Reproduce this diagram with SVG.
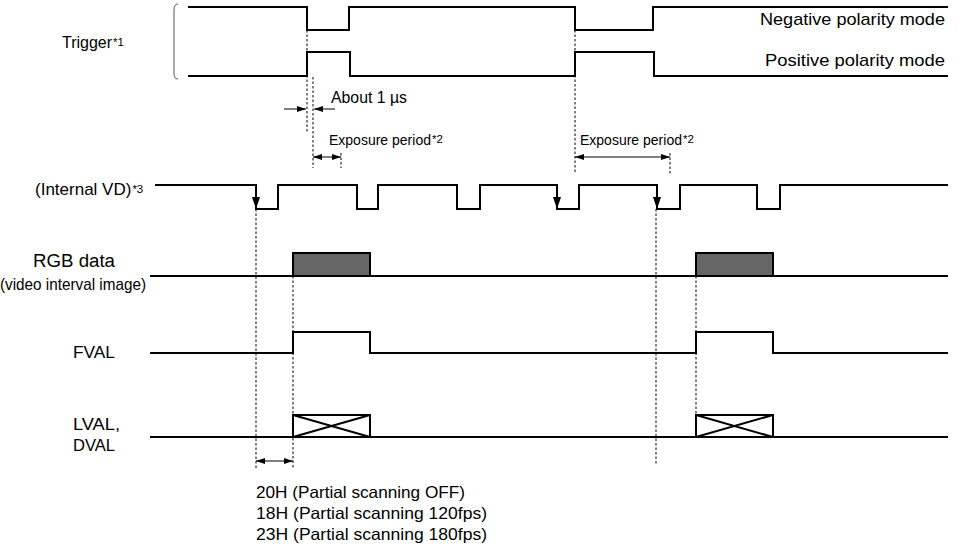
<svg xmlns="http://www.w3.org/2000/svg" width="959" height="547" viewBox="0 0 959 547">
<defs>
<style>
.sig{fill:none;stroke:#000;stroke-width:2;stroke-linejoin:miter}
.dash{fill:none;stroke:#000;stroke-width:1;stroke-dasharray:2.5 2}
.arr{fill:none;stroke:#000;stroke-width:1}
.t{font-family:"Liberation Sans",Arial,Helvetica,sans-serif;fill:#000}
.sup{font-size:11.5px}
.box{fill:#666;stroke:#000;stroke-width:2}
.xbox{fill:#fff;stroke:#000;stroke-width:2}
</style>
<marker id="ah" markerWidth="9" markerHeight="6" refX="9" refY="3" orient="auto-start-reverse" markerUnits="userSpaceOnUse">
<path d="M0,0 L9,3 L0,6 Z" fill="#000"/>
</marker>
<marker id="vah" markerWidth="12" markerHeight="8" refX="12" refY="4" orient="auto" markerUnits="userSpaceOnUse">
<path d="M0,0 L12,4 L0,8 Z" fill="#000"/>
</marker>
</defs>
<rect width="959" height="547" fill="#fff"/>

<g id="trigger">
<text class="t" x="62" y="48" font-size="16">Trigger<tspan class="sup" dx="1" dy="-2">*1</tspan></text>
<path d="M178,4 Q174,4 174,10 L174,73 Q174,79 178,79" fill="none" stroke="#555" stroke-width="1"/>
<path class="sig" d="M188,7 H307 V30 H349 V7 H575 V30 H653 V7 H948"/>
<path class="sig" d="M188,76 H307 V52 H350 V76 H575 V52 H654 V76 H948"/>
<text class="t" x="945" y="25" font-size="17" text-anchor="end" textLength="185" lengthAdjust="spacingAndGlyphs">Negative polarity mode</text>
<text class="t" x="945" y="66" font-size="17" text-anchor="end" textLength="180" lengthAdjust="spacingAndGlyphs">Positive polarity mode</text>
</g>

<g id="internal-vd">
<text class="t" x="35" y="195" font-size="17">(Internal VD)<tspan class="sup" dx="1" dy="-2">*3</tspan></text>
<path class="sig" d="M155,185 H256 V209 H278 V185 H357 V209 H378 V185 H457 V209 H480 V185 H557 V209 H579 V185 H657 V209 H680 V185 H757 V209 H780 V185 H948"/>
</g>

<g id="rgb-data">
<text class="t" x="74" y="267" font-size="18" text-anchor="middle" textLength="82" lengthAdjust="spacingAndGlyphs">RGB data</text>
<text class="t" x="0" y="290" font-size="17" textLength="146" lengthAdjust="spacingAndGlyphs">(video interval image)</text>
<path class="sig" d="M150,276 H948"/>
<rect class="box" x="293" y="253" width="77" height="23"/>
<rect class="box" x="696" y="253" width="77" height="23"/>
</g>

<g id="fval">
<text class="t" x="73" y="358" font-size="17" textLength="42" lengthAdjust="spacingAndGlyphs">FVAL</text>
<path class="sig" d="M150,353 H293 V332 H370 V353 H696 V332 H773 V353 H948"/>
</g>

<g id="lval-dval">
<text class="t" x="73" y="430" font-size="17" textLength="47" lengthAdjust="spacingAndGlyphs">LVAL,</text>
<text class="t" x="73" y="451" font-size="17" textLength="42" lengthAdjust="spacingAndGlyphs">DVAL</text>
<path class="sig" d="M150,437 H948"/>
<rect class="xbox" x="293" y="415" width="77" height="22"/>
<path class="sig" d="M293,415 L370,437 M293,437 L370,415"/>
<rect class="xbox" x="696" y="415" width="77" height="22"/>
<path class="sig" d="M696,415 L773,437 M696,437 L773,415"/>
</g>

<g id="connectors">
<path class="dash" d="M307,30 V132 M313,77 V168 M341,153 V168 M575,30 V174 M670,153 V174"/>
<path class="dash" d="M256,209 V469 M293,276 V469 M656,209 V464 M696,276 V414"/>
<line class="arr" x1="284" y1="109" x2="306" y2="109" marker-end="url(#ah)"/>
<line class="arr" x1="335" y1="109" x2="314" y2="109" marker-end="url(#ah)"/>
<line class="arr" x1="313" y1="157" x2="341" y2="157" marker-start="url(#ah)" marker-end="url(#ah)"/>
<line class="arr" x1="575" y1="157" x2="670" y2="157" marker-start="url(#ah)" marker-end="url(#ah)"/>
<line class="arr" x1="256" y1="461" x2="293" y2="461" marker-start="url(#ah)" marker-end="url(#ah)"/>
<line class="arr" x1="256" y1="190" x2="256" y2="209" marker-end="url(#vah)"/>
<line class="arr" x1="557" y1="190" x2="557" y2="209" marker-end="url(#vah)"/>
<line class="arr" x1="657" y1="190" x2="657" y2="209" marker-end="url(#vah)"/>
</g>

<g id="labels">
<text class="t" x="331" y="103" font-size="17" textLength="76" lengthAdjust="spacingAndGlyphs">About 1 µs</text>
<text class="t" x="329" y="145" font-size="14">Exposure period<tspan class="sup" dx="1" dy="-2">*2</tspan></text>
<text class="t" x="580" y="145" font-size="14">Exposure period<tspan class="sup" dx="1" dy="-2">*2</tspan></text>
<text class="t" x="256" y="498" font-size="16.5" textLength="209" lengthAdjust="spacingAndGlyphs">20H (Partial scanning OFF)</text>
<text class="t" x="256" y="519" font-size="16.5" textLength="231" lengthAdjust="spacingAndGlyphs">18H (Partial scanning 120fps)</text>
<text class="t" x="256" y="540" font-size="16.5" textLength="231" lengthAdjust="spacingAndGlyphs">23H (Partial scanning 180fps)</text>
</g>
</svg>
